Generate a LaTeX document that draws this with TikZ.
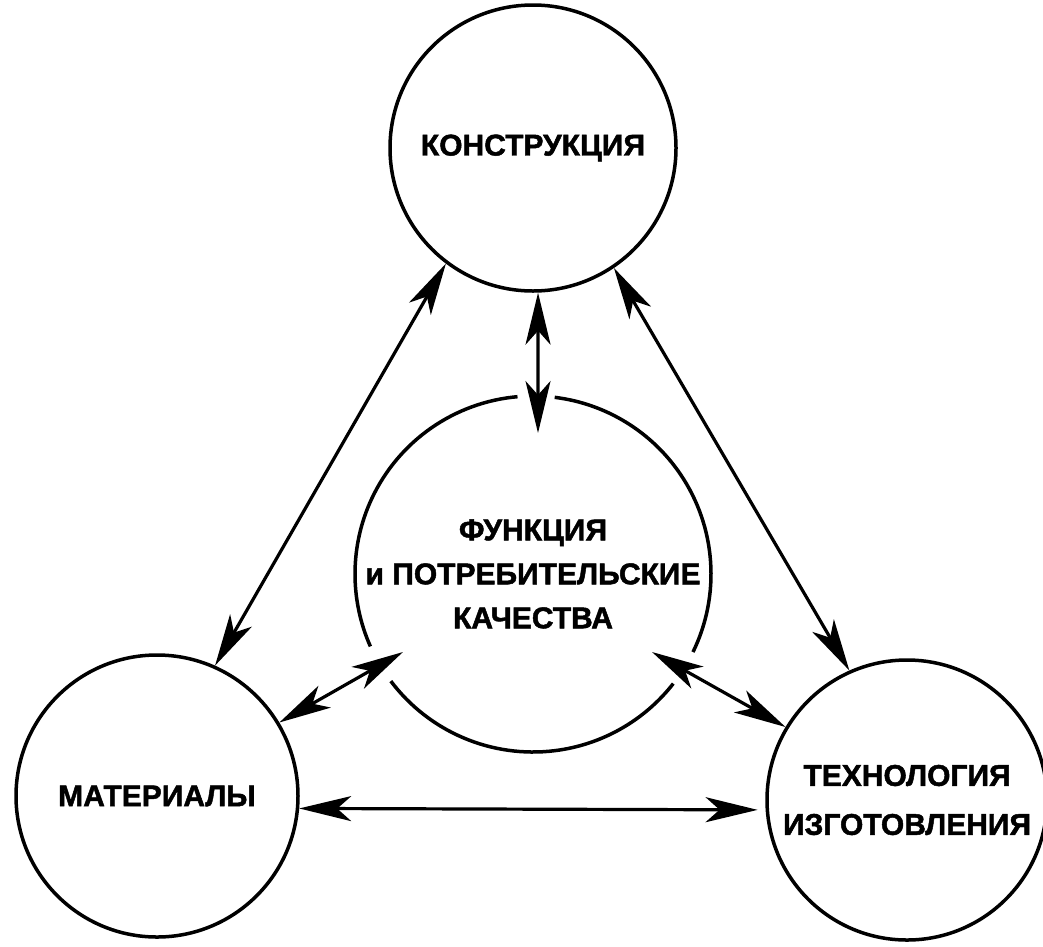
\documentclass[tikz,border=0pt]{standalone}
\usepackage{fontspec}
\setmainfont{Liberation Sans}[FakeBold=1.6]
\usetikzlibrary{arrows.meta}
\begin{document}
\begin{tikzpicture}[x=1pt,y=1pt,
  >={Stealth[length=52pt,width=25pt,inset=14pt]},
  lab/.style={font=\fontsize{30}{44}\selectfont\bfseries},
  circ/.style={circle,draw,line width=3.5pt,inner sep=0pt,align=center,lab},
  arr/.style={<->,line width=3.2pt},
  ring/.style={line width=3.5pt}]
\useasboundingbox (0,0) rectangle (1043,-946);
\node[circ,minimum size=286pt] (top) at (533,-148) {КОНСТРУКЦИЯ};
\node[circ,minimum size=282pt] (left) at (157,-796) {МАТЕРИАЛЫ};
\node[circ,minimum size=280pt,font=\fontsize{30}{49}\selectfont\bfseries] (right) at (907,-800) {ТЕХНОЛОГИЯ\\ИЗГОТОВЛЕНИЯ};
\node[circle,inner sep=0pt,minimum size=356pt,align=center,lab] (mid) at (533,-574) {ФУНКЦИЯ\\и ПОТРЕБИТЕЛЬСКИЕ\\КАЧЕСТВА};
\draw[ring] (mid.center) ++(95:178) arc[start angle=95,end angle=204,radius=178];
\draw[ring] (mid.center) ++(217:178) arc[start angle=217,end angle=322,radius=178];
\draw[ring] (mid.center) ++(334:178) arc[start angle=334,end angle=443,radius=178];
\coordinate (c1) at (538,-433);
\coordinate (c4) at (403,-652);
\coordinate (c5) at (652,-652);
\draw[arr] (top.-88) -- (c1);
\draw[arr] (top.233.6) -- (left.66.6);
\draw[arr] (top.304) -- (right.114);
\draw[arr] (left.31) -- (c4);
\draw[arr] (c5) -- (right.149);
\draw[arr,shorten >=8pt] (left.-5.7) -- (right.184);
\end{tikzpicture}
\end{document}
